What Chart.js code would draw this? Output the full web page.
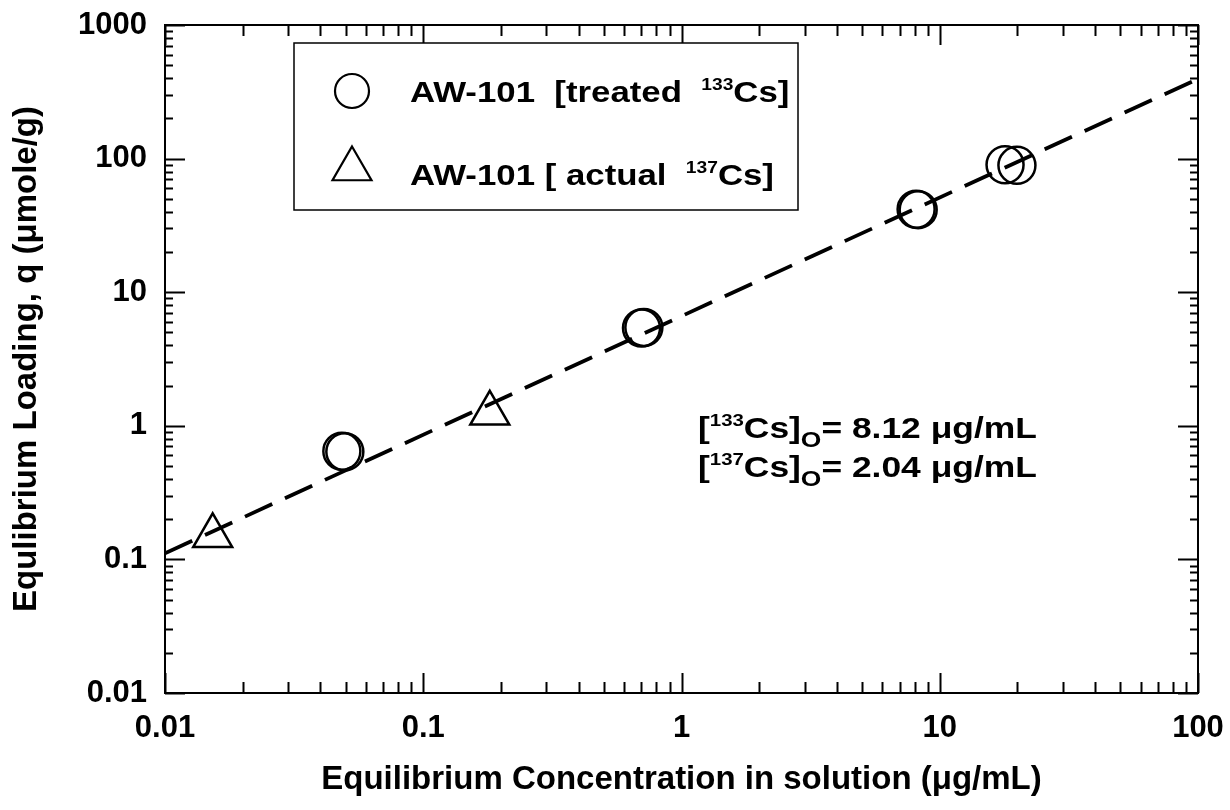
<!DOCTYPE html>
<html>
<head>
<meta charset="utf-8">
<title>AW-101 Cs isotherm</title>
<script src="https://cdn.jsdelivr.net/npm/chart.js"></script>
<style>
  html, body { margin: 0; padding: 0; background: #fff; }
  #wrap { position: relative; width: 1230px; height: 810px; }
</style>
</head>
<body>
<div id="wrap"><canvas id="chart"></canvas></div>
<script>
var treatedX = [0.0484, 0.0497, 0.700, 0.715, 8.10, 8.25, 17.9, 19.9];
var treatedY = [0.645, 0.640, 5.40, 5.45, 41.8, 41.5, 90.0, 89.0];
var actualX = [0.0153, 0.181];
var actualY = [0.150, 1.24];
var fitX = [0.01, 100];
var fitY = [0.111, 395];

var xTicks = [0.01, 0.1, 1, 10, 100];
var xLabels = ["0.01", "0.1", "1", "10", "100"];
var yTicks = [0.01, 0.1, 1, 10, 100, 1000];
var yLabels = ["0.01", "0.1", "1", "10", "100", "1000"];

var legendRows = [
  { marker: "circle", pre: "AW-101  [treated  ", iso: "133", post: "Cs]" },
  { marker: "triangle", pre: "AW-101 [ actual  ", iso: "137", post: "Cs]" }
];
var noteIsotopes = ["133", "137"];
var noteValues = ["8.12", "2.04"];

var FONT = "'Liberation Sans', Arial, Helvetica, sans-serif";
var STRETCH = 1.2; // the source figure is drawn a bit wide

function pairs(xs, ys) {
  return xs.map(function (x, i) { return { x: x, y: ys[i] }; });
}

function logMarks(lo, hi) {
  var out = [];
  var e0 = Math.round(Math.log10(lo)), e1 = Math.round(Math.log10(hi));
  for (var e = e0; e < e1; e++) {
    for (var m = 1; m <= 9; m++) out.push({ v: m * Math.pow(10, e), major: m === 1 });
  }
  out.push({ v: hi, major: true });
  return out;
}

// text with super/subscripts, drawn left to right from the (x, y) baseline
function richText(ctx, x, y, parts, size) {
  ctx.save();
  ctx.translate(x, y);
  ctx.scale(STRETCH, 1);
  var cx = 0;
  parts.forEach(function (p) {
    var kind = p[1] || "n";
    var s = size, dy = 0;
    if (kind === "sup") { s = Math.round(size * 0.56); dy = -Math.round(size * 0.82) + s * 0.72; }
    if (kind === "sub") { s = Math.round(size * 0.75); dy = size * 0.3; }
    ctx.font = "bold " + s + "px " + FONT;
    ctx.fillText(p[0], cx, dy);
    cx += ctx.measureText(p[0]).width;
  });
  ctx.restore();
}

function triangle(ctx, x, y, r) {
  ctx.beginPath();
  for (var k = 0; k < 3; k++) {
    var a = k * 2 * Math.PI / 3;
    var px = x + Math.sin(a) * r, py = y - Math.cos(a) * r;
    if (k === 0) ctx.moveTo(px, py); else ctx.lineTo(px, py);
  }
  ctx.closePath();
  ctx.stroke();
}

var decorations = {
  id: "decorations",
  afterDraw: function (chart) {
    var ctx = chart.ctx, a = chart.chartArea;
    var xs = chart.scales.x, ys = chart.scales.y;
    ctx.save();
    ctx.strokeStyle = "#000";
    ctx.fillStyle = "#000";
    ctx.lineWidth = 2;

    // inward ticks on all four sides
    ctx.beginPath();
    logMarks(xs.min, xs.max).forEach(function (t) {
      var px = Math.round(xs.getPixelForValue(t.v)) + 0.5;
      var len = t.major ? 20 : 11;
      ctx.moveTo(px, a.bottom); ctx.lineTo(px, a.bottom - len);
      ctx.moveTo(px, a.top); ctx.lineTo(px, a.top + len);
    });
    logMarks(ys.min, ys.max).forEach(function (t) {
      var py = Math.round(ys.getPixelForValue(t.v)) + 0.5;
      var len = t.major ? 20 : 8;
      ctx.moveTo(a.left, py); ctx.lineTo(a.left + len, py);
      ctx.moveTo(a.right, py); ctx.lineTo(a.right - len, py);
    });
    ctx.stroke();
    ctx.strokeRect(a.left, a.top, a.right - a.left, a.bottom - a.top);

    // legend box
    ctx.fillStyle = "#fff";
    ctx.fillRect(294, 43, 504, 167);
    ctx.lineWidth = 1.5;
    ctx.strokeRect(294, 43, 504, 167);
    ctx.fillStyle = "#000";
    ctx.lineWidth = 2.2;
    legendRows.forEach(function (row, i) {
      var base = i === 0 ? 102 : 185;
      if (row.marker === "circle") {
        ctx.beginPath();
        ctx.arc(352, 91, 17, 0, Math.PI * 2);
        ctx.stroke();
      } else {
        triangle(ctx, 352, 169, 22.5);
      }
      richText(ctx, 410, base, [[row.pre], [row.iso, "sup"], [row.post]], 29);
    });

    // initial concentrations
    noteIsotopes.forEach(function (iso, i) {
      richText(ctx, 698, 438 + i * 39,
        [["["], [iso, "sup"], ["Cs]"], ["O", "sub"], ["= " + noteValues[i] + " \u03bcg/mL"]], 29.5);
    });
    ctx.restore();
  }
};

var tickFont = { family: FONT, size: 31, weight: "bold" };
var titleFont = { family: FONT, size: 33, weight: "bold" };

new Chart(document.getElementById("chart"), {
  type: "scatter",
  data: {
    datasets: [
      {
        label: "fit",
        data: pairs(fitX, fitY),
        showLine: true,
        borderColor: "#000",
        borderWidth: 3.8,
        borderDash: [30, 14],
        pointRadius: 0
      },
      {
        label: "AW-101 [treated 133Cs]",
        data: pairs(treatedX, treatedY),
        pointStyle: "circle",
        pointRadius: 18.5,
        borderWidth: 2.5,
        borderColor: "#000",
        backgroundColor: "rgba(0,0,0,0)"
      },
      {
        label: "AW-101 [actual 137Cs]",
        data: pairs(actualX, actualY),
        pointStyle: "triangle",
        pointRadius: 22.5,
        borderWidth: 2.5,
        borderColor: "#000",
        backgroundColor: "rgba(0,0,0,0)"
      }
    ]
  },
  options: {
    responsive: true,
    maintainAspectRatio: false,
    animation: false,
    devicePixelRatio: 1,
    layout: { padding: { top: 24, right: 32, bottom: 0, left: 0 } },
    plugins: { legend: { display: false }, tooltip: { enabled: false } },
    scales: {
      x: {
        type: "logarithmic",
        min: 0.01,
        max: 100,
        afterBuildTicks: function (s) { s.ticks = xTicks.map(function (v) { return { value: v }; }); },
        afterFit: function (s) { s.height = 117; s.paddingLeft = 0; s.paddingRight = 0; },
        ticks: {
          autoSkip: false, maxRotation: 0, padding: 17, color: "#000", font: tickFont,
          callback: function (v, i) { return xLabels[i]; }
        },
        grid: { display: false, drawTicks: false },
        border: { display: false },
        title: {
          display: true, text: "Equilibrium Concentration in solution (\u03bcg/mL)",
          color: "#000", font: titleFont, padding: { top: 0, bottom: 10 }
        }
      },
      y: {
        type: "logarithmic",
        min: 0.01,
        max: 1000,
        afterBuildTicks: function (s) { s.ticks = yTicks.map(function (v) { return { value: v }; }); },
        afterFit: function (s) { s.width = 165; s.paddingTop = 0; s.paddingBottom = 0; },
        ticks: {
          autoSkip: false, padding: 18, color: "#000", font: tickFont,
          callback: function (v, i) { return yLabels[i]; }
        },
        grid: { display: false, drawTicks: false },
        border: { display: false },
        title: {
          display: true, text: "Equlibrium Loading, q (\u03bcmole/g)",
          color: "#000", font: titleFont, padding: { top: 7, bottom: 0 }
        }
      }
    }
  },
  plugins: [decorations]
});
</script>
</body>
</html>
